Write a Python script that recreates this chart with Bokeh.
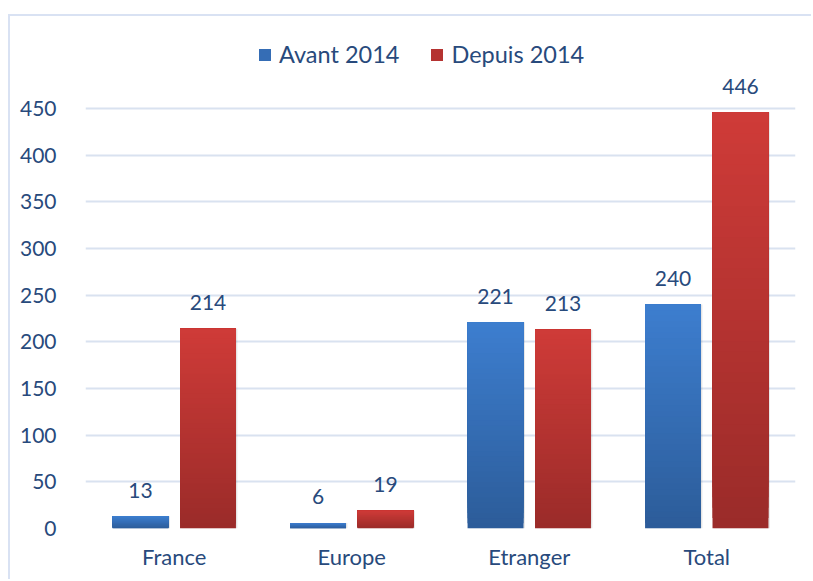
from bokeh.plotting import figure
from bokeh.models import ColumnDataSource, Range1d, FixedTicker, Legend, LegendItem, FactorRange
from bokeh.transform import dodge
from bokeh.core.properties import value
from bokeh.embed import file_html
from bokeh.resources import INLINE

categories = ["France", "Europe", "Etranger", "Total"]
series_names = ["Avant 2014", "Depuis 2014"]
avant = [13, 6, 221, 240]
depuis = [214, 19, 213, 446]
y_ticks = [0, 50, 100, 150, 200, 250, 300, 350, 400, 450]

TEXT = "#284a7c"
GRID = "#d9e2f0"
FONT = "Lato"
BLUE_TOP, BLUE_BOT = "#3d7ecf", "#2c5c99"
RED_TOP, RED_BOT = "#cf3b38", "#9a2b29"
OFFSET = 0.19
BAR_W = 0.315
N_SLICES = 40


def hx(c):
    c = c.lstrip("#")
    return tuple(int(c[i:i + 2], 16) for i in (0, 2, 4))


def mix(c1, c2, t):
    a, b = hx(c1), hx(c2)
    return "#%02x%02x%02x" % tuple(int(round(a[i] + (b[i] - a[i]) * t)) for i in range(3))


def slices(vals, bot_col, top_col):
    # overlapping slices: each runs from its own bottom up to the bar's top
    d = dict(cat=[], bottom=[], top=[], color=[])
    for k in range(N_SLICES):
        for c, v in zip(categories, vals):
            d["cat"].append(c)
            d["bottom"].append(v * k / N_SLICES)
            d["top"].append(v)
            d["color"].append(mix(bot_col, top_col, (k + 0.5) / N_SLICES))
    return ColumnDataSource(d)


p = figure(
    x_range=FactorRange(factors=categories, range_padding=0),
    y_range=Range1d(0, 538),
    width=803, height=565,
    output_backend="svg", toolbar_location=None,
    min_border_left=75, min_border_right=18, min_border_top=10, min_border_bottom=53,
    margin=(14, 0, 0, 8),
    styles={"border-top": "2px solid #d9e2f3", "border-left": "2px solid #d9e2f3"},
)
p.outline_line_color = None
p.background_fill_color = "white"
p.border_fill_color = "white"

p.xgrid.grid_line_color = None
p.ygrid.ticker = FixedTicker(ticks=y_ticks)
p.ygrid.grid_line_color = GRID
p.ygrid.grid_line_width = 2

p.yaxis.ticker = FixedTicker(ticks=y_ticks)
for ax in (p.xaxis[0], p.yaxis[0]):
    ax.axis_line_color = None
    ax.major_tick_line_color = None
    ax.minor_tick_line_color = None
    ax.major_label_text_color = TEXT
    ax.major_label_text_font = FONT
p.yaxis.major_label_text_font_size = "21px"
p.xaxis.major_label_text_font_size = "22px"
p.yaxis.major_label_standoff = 23
p.xaxis.major_label_standoff = 8

renderers = []
for vals, off, bc, tc in ((avant, -OFFSET, BLUE_BOT, BLUE_TOP), (depuis, OFFSET, RED_BOT, RED_TOP)):
    shadow = ColumnDataSource(dict(cat=categories, top=vals))
    p.vbar(x=dodge("cat", off + 0.008, range=p.x_range), top="top", bottom=-2.2, width=BAR_W,
           source=shadow, fill_color="#000000", fill_alpha=0.10, line_color=None)
    src = slices(vals, bc, tc)
    r = p.vbar(x=dodge("cat", off, range=p.x_range), top="top", bottom="bottom", width=BAR_W,
               source=src, fill_color="color", line_color=None)
    renderers.append(r)
    lab = ColumnDataSource(dict(cat=categories, val=vals, label=[str(v) for v in vals]))
    p.text(x=dodge("cat", off, range=p.x_range), y="val", text="label", source=lab,
           text_align="center", text_baseline="alphabetic", y_offset=-26,
           text_font=value(FONT), text_font_size="21px", text_color=TEXT)

mid = (N_SLICES // 2) * len(categories)
legend = Legend(
    items=[LegendItem(label=series_names[0], renderers=[renderers[0]], index=mid),
           LegendItem(label=series_names[1], renderers=[renderers[1]], index=mid)],
    orientation="horizontal", location=(172, 460),
    border_line_color=None, background_fill_alpha=0,
    label_text_font=FONT, label_text_font_size="23.5px", label_text_color=TEXT,
    glyph_width=15, glyph_height=15, label_standoff=7, spacing=30,
    padding=0, margin=0,
)
p.add_layout(legend, "center")

open("out.html", "w").write(file_html(p, INLINE))
